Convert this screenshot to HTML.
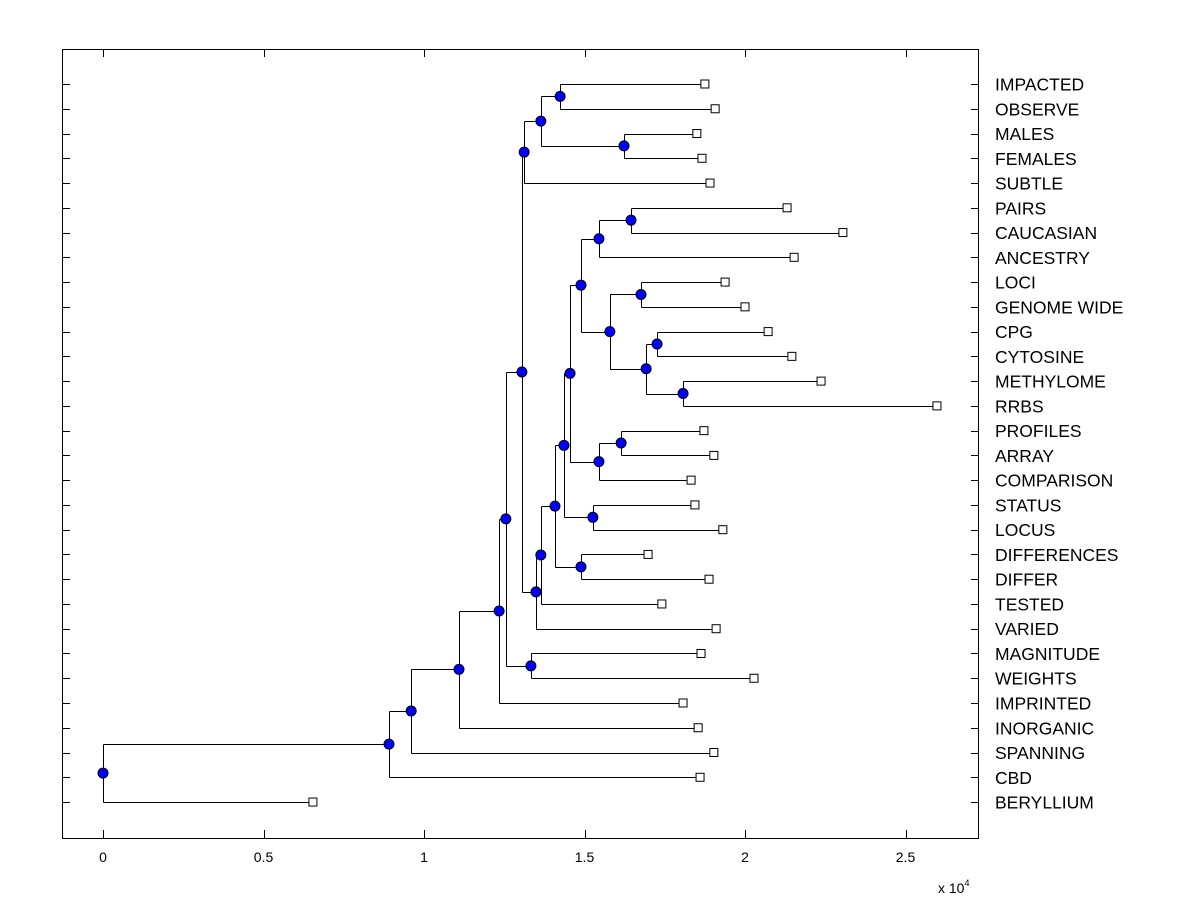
<!DOCTYPE html>
<html><head><meta charset="utf-8"><style>
body{margin:0;background:#fff;}
svg{display:block;font-family:"Liberation Sans",Arial,sans-serif;}
</style></head><body>
<svg id="chart" width="1200" height="900" viewBox="0 0 1200 900" xmlns="http://www.w3.org/2000/svg">
<rect x="0" y="0" width="1200" height="900" fill="#fff"/>
<rect x="62.5" y="49.5" width="916" height="789" fill="#fff" stroke="#000" stroke-width="1"/>
<g id="ticks"></g><g id="lines"></g><g id="markers"></g><g id="labels"></g>
<text x="938" y="893" font-size="14">x 10<tspan dy="-7" font-size="9">4</tspan></text>
</svg>
<script>
const leafLabels = ["IMPACTED","OBSERVE","MALES","FEMALES","SUBTLE","PAIRS","CAUCASIAN","ANCESTRY","LOCI","GENOME WIDE","CPG","CYTOSINE","METHYLOME","RRBS","PROFILES","ARRAY","COMPARISON","STATUS","LOCUS","DIFFERENCES","DIFFER","TESTED","VARIED","MAGNITUDE","WEIGHTS","IMPRINTED","INORGANIC","SPANNING","CBD","BERYLLIUM"];
const leafValues = [1.875,1.907,1.850,1.866,1.891,2.131,2.305,2.153,1.938,2.000,2.072,2.146,2.237,2.598,1.872,1.903,1.832,1.844,1.931,1.698,1.888,1.741,1.910,1.863,2.028,1.807,1.854,1.903,1.860,0.654];
const mergeLeft  = [0,2,30,32,5,34,8,10,12,37,36,35,14,42,41,17,44,19,46,48,49,33,23,51,53,54,55,56,57];
const mergeRight = [1,3,31,4,6,7,9,11,13,38,39,40,15,16,43,18,45,20,47,21,22,50,24,52,25,26,27,28,29];
const mergeHeight= [1.424,1.623,1.364,1.312,1.645,1.545,1.676,1.726,1.807,1.692,1.579,1.489,1.614,1.545,1.455,1.526,1.436,1.489,1.408,1.364,1.349,1.305,1.333,1.255,1.234,1.109,0.960,0.891,0];
const xTicks = [0,0.5,1,1.5,2,2.5];
const xTickLabels = ["0","0.5","1","1.5","2","2.5"];

const NS="http://www.w3.org/2000/svg";
const X = v => 103 + v*321;
const Y = i => 84 + i*24.76;
function mk(tag, attrs, parent){const e=document.createElementNS(NS,tag);for(const k in attrs)e.setAttribute(k,attrs[k]);document.getElementById(parent).appendChild(e);return e;}

const nodeX=[], nodeY=[];
leafValues.forEach((v,i)=>{nodeX[i]=v;nodeY[i]=Y(i);});
mergeHeight.forEach((h,k)=>{const a=mergeLeft[k],b=mergeRight[k];nodeX[30+k]=h;nodeY[30+k]=(nodeY[a]+nodeY[b])/2;});

leafLabels.forEach((lab,i)=>{
  const y=Math.round(Y(i))+0.5;
  let t=mk('line',{x1:62,x2:70,y1:y,y2:y,stroke:'#000'},'ticks');
  
  
  t=mk('line',{x1:971,x2:979,y1:y,y2:y,stroke:'#000'},'ticks');
  
  
  const tx=mk('text',{x:995,y:Y(i)+6.5,'font-size':17.5},'labels');
  tx.textContent=lab;
  
  
});
xTicks.forEach((v,i)=>{
  const x=Math.round(X(v))+0.5;
  let t=mk('line',{x1:x,x2:x,y1:838,y2:830,stroke:'#000'},'ticks');
  
  
  t=mk('line',{x1:x,x2:x,y1:49,y2:57,stroke:'#000'},'ticks');
  
  
  const tx=mk('text',{x:X(v),y:862,'font-size':14,'text-anchor':'middle'},'labels');
  tx.textContent=xTickLabels[i];
  
  
});

mergeHeight.forEach((h,k)=>{
  const a=mergeLeft[k],b=mergeRight[k];
  const hx=Math.round(X(h))+0.5;
  let l=mk('line',{x1:hx,x2:hx,y1:Math.round(nodeY[a])+0.5,y2:Math.round(nodeY[b])+0.5,stroke:'#000'},'lines');
  
  
  [a,b].forEach(c=>{
    const y=Math.round(nodeY[c])+0.5;
    const hl=mk('line',{x1:hx,x2:X(nodeX[c]),y1:y,y2:y,stroke:'#000'},'lines');
    
    
  });
});
leafValues.forEach((v,i)=>{
  const s=mk('rect',{x:X(v)-4,y:Y(i)-4,width:8,height:8,fill:'#fff',stroke:'#000'},'markers');
  
  
});
mergeHeight.forEach((h,k)=>{
  const c=mk('circle',{cx:X(h),cy:nodeY[30+k],r:5,fill:'#0000ff',stroke:'#000'},'markers');
  
  
});
</script>
</body></html>
